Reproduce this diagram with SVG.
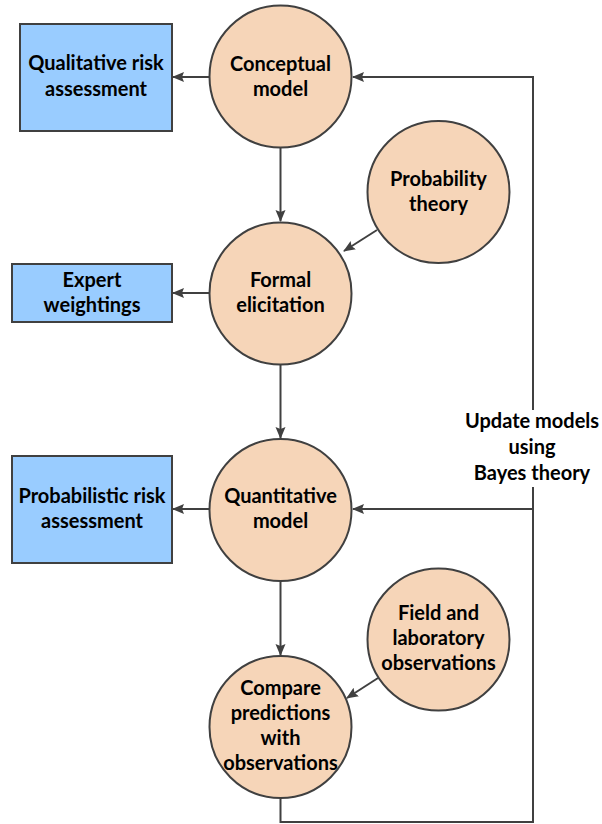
<svg xmlns="http://www.w3.org/2000/svg" width="602" height="824" viewBox="0 0 602 824">
<style>
.c{fill:#F6D5B8;stroke:#404040;stroke-width:2}
.r{fill:#99CCFF;stroke:#404040;stroke-width:2}
.t{font-family:Lato,"Liberation Sans",sans-serif;font-weight:bold;font-size:20px;fill:#000;text-anchor:middle}
.l{fill:none;stroke:#404040;stroke-width:2}
</style>
<defs>
<marker id="a" markerUnits="userSpaceOnUse" markerWidth="12" markerHeight="12" viewBox="0 0 12 12" refX="11" refY="6" orient="auto">
<path d="M0,1 L12,6 L0,11 L2,6 z" fill="#404040"/>
</marker>
</defs>
<rect width="602" height="824" fill="#fff"/>
<g id="connectors">
<line class="l" x1="209" y1="77" x2="173" y2="77" marker-end="url(#a)"/>
<line class="l" x1="280.5" y1="148" x2="280.5" y2="221" marker-end="url(#a)"/>
<line class="l" x1="377" y1="230" x2="344" y2="251" marker-end="url(#a)"/>
<line class="l" x1="209" y1="293" x2="173" y2="293" marker-end="url(#a)"/>
<line class="l" x1="280.5" y1="365" x2="280.5" y2="438" marker-end="url(#a)"/>
<line class="l" x1="209" y1="509" x2="173" y2="509" marker-end="url(#a)"/>
<line class="l" x1="280.5" y1="581" x2="280.5" y2="655" marker-end="url(#a)"/>
<line class="l" x1="378" y1="678" x2="347" y2="698" marker-end="url(#a)"/>
<path class="l" d="M280.5,798 V822 H533 V487"/>
<path class="l" d="M533,509 H353" marker-end="url(#a)"/>
<path class="l" d="M533,410 V77 H353" marker-end="url(#a)"/>
<text class="t"><tspan x="532" y="428">Update models</tspan><tspan x="532" y="454">using</tspan><tspan x="532" y="480">Bayes theory</tspan></text>
</g>
<g id="qualitative">
<rect class="r" x="20" y="24" width="152" height="107"/>
<text class="t"><tspan x="96" y="70">Qualitative risk</tspan><tspan x="96" y="96">assessment</tspan></text>
</g>
<g id="conceptual">
<circle class="c" cx="280.5" cy="76.5" r="71"/>
<text class="t"><tspan x="280.5" y="71">Conceptual</tspan><tspan x="280.5" y="96">model</tspan></text>
</g>
<g id="probability">
<circle class="c" cx="438.5" cy="192" r="71"/>
<text class="t"><tspan x="438.5" y="186">Probability</tspan><tspan x="438.5" y="211">theory</tspan></text>
</g>
<g id="expert">
<rect class="r" x="12" y="264" width="160" height="58"/>
<text class="t"><tspan x="92" y="287">Expert</tspan><tspan x="92" y="312">weightings</tspan></text>
</g>
<g id="formal">
<circle class="c" cx="280.5" cy="293.5" r="71"/>
<text class="t"><tspan x="280.5" y="287">Formal</tspan><tspan x="280.5" y="312">elicitation</tspan></text>
</g>
<g id="probabilistic">
<rect class="r" x="12" y="456" width="160" height="107"/>
<text class="t"><tspan x="92" y="503">Probabilistic risk</tspan><tspan x="92" y="528">assessment</tspan></text>
</g>
<g id="quantitative">
<circle class="c" cx="280.5" cy="510" r="71"/>
<text class="t"><tspan x="280.5" y="503">Quantitative</tspan><tspan x="280.5" y="528">model</tspan></text>
</g>
<g id="field">
<circle class="c" cx="438.5" cy="639.5" r="71"/>
<text class="t"><tspan x="438.5" y="620">Field and</tspan><tspan x="438.5" y="645">laboratory</tspan><tspan x="438.5" y="670">observations</tspan></text>
</g>
<g id="compare">
<circle class="c" cx="280.5" cy="727" r="71"/>
<text class="t"><tspan x="280.5" y="695">Compare</tspan><tspan x="280.5" y="720">predictions</tspan><tspan x="280.5" y="745">with</tspan><tspan x="280.5" y="770">observations</tspan></text>
</g>
</svg>
